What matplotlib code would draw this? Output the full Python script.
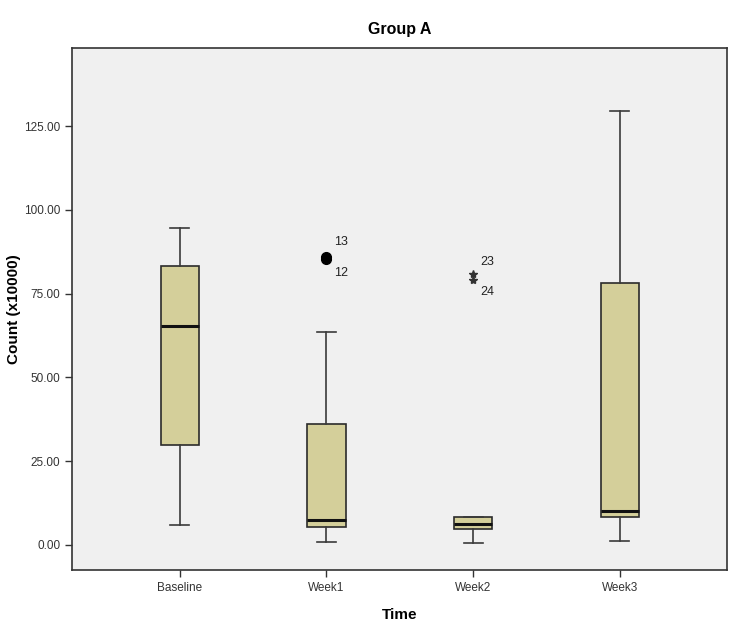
import matplotlib
matplotlib.use("Agg")
from matplotlib import pyplot as plt
import numpy as np

times = ["Baseline", "Week1", "Week2", "Week3"]
whisker_low = [6.0, 0.9, 0.6, 1.2]
q1 = [29.8, 5.4, 4.8, 8.4]
medians = [65.3, 7.5, 6.3, 10.1]
q3 = [83.2, 36.1, 8.4, 78.2]
whisker_high = [94.6, 63.5, 8.4, 129.5]

# outliers (circle) and extremes (star) with case numbers
outlier_pos = [2, 2]
outlier_vals = [86.0, 85.3]
outlier_ids = ["13", "12"]
extreme_pos = [3, 3]
extreme_vals = [81.0, 79.0]
extreme_ids = ["23", "24"]

stats = []
for i in range(len(times)):
    stats.append({"whislo": whisker_low[i], "q1": q1[i], "med": medians[i],
                  "q3": q3[i], "whishi": whisker_high[i], "fliers": [],
                  "label": times[i]})

plt.rcParams["font.family"] = ["Liberation Sans", "DejaVu Sans"]
fig = plt.figure(figsize=(7.45, 6.31), dpi=100)
ax = fig.add_axes([0.0966, 0.0967, 0.8792, 0.8273])
ax.set_facecolor("#f0f0f0")

ax.bxp(stats, positions=[1, 2, 3, 4], widths=0.26, capwidths=0.13,
       patch_artist=True, showfliers=False,
       boxprops=dict(facecolor="#d4cf9a", edgecolor="#2b2b2b", linewidth=1.2),
       medianprops=dict(color="#111111", linewidth=2.2),
       whiskerprops=dict(color="#3a3a3a", linewidth=1.2),
       capprops=dict(color="#3a3a3a", linewidth=1.2))

ax.plot(outlier_pos, outlier_vals, "o", color="black", markersize=7)
ax.plot(extreme_pos, extreme_vals, "*", color="#333333", markersize=6)
ax.text(outlier_pos[0] + 0.05, outlier_vals[0] + 3.5, outlier_ids[0], fontsize=9, color="#222222")
ax.text(outlier_pos[1] + 0.05, outlier_vals[1] - 5.0, outlier_ids[1], fontsize=9, color="#222222")
ax.text(extreme_pos[0] + 0.05, extreme_vals[0] + 2.5, extreme_ids[0], fontsize=9, color="#222222")
ax.text(extreme_pos[1] + 0.05, extreme_vals[1] - 4.5, extreme_ids[1], fontsize=9, color="#222222")

ax.set_xlim(0.265, 4.73)
ax.set_ylim(-7.46, 148.3)
ax.set_yticks([0, 25, 50, 75, 100, 125])
ax.set_yticklabels(["0.00", "25.00", "50.00", "75.00", "100.00", "125.00"])
ax.set_xticks([1, 2, 3, 4])
ax.set_xticklabels(times)
ax.tick_params(axis="both", direction="out", length=5, width=1, labelsize=8.5,
               colors="#333333")
for s in ax.spines.values():
    s.set_linewidth(1.2)
    s.set_color("#333333")

ax.set_title("Group A", fontsize=11.5, fontweight="bold", pad=10)
ax.set_xlabel("Time", fontsize=11, fontweight="bold", labelpad=10)
ax.set_ylabel("Count (x10000)", fontsize=11, fontweight="bold")
ax.yaxis.set_label_coords(-0.078, 0.5)

fig.savefig("out.png", dpi=100)
